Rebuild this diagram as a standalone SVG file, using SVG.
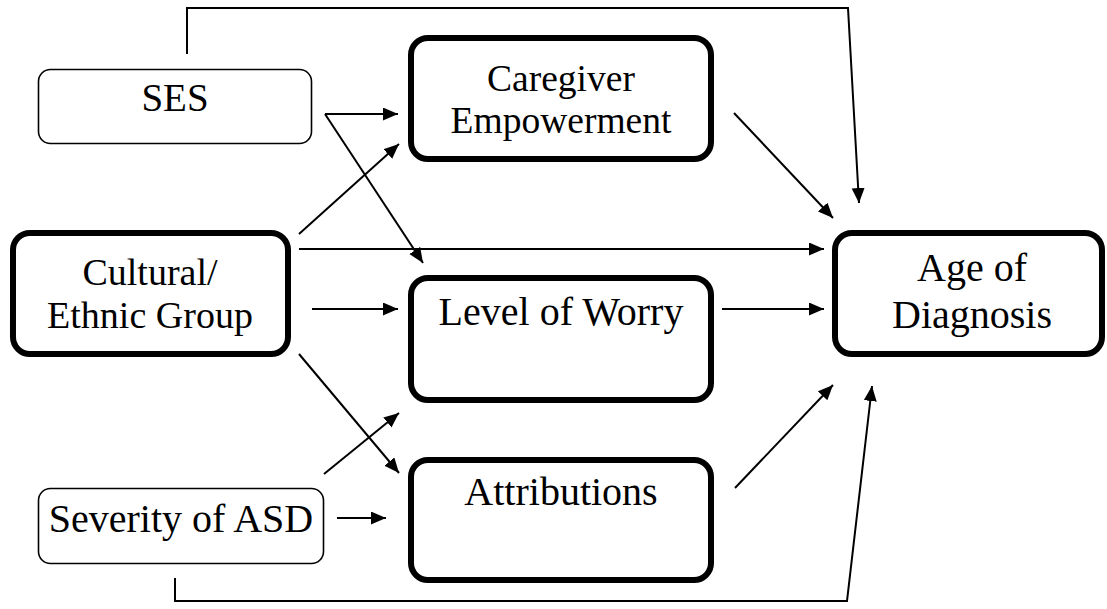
<svg xmlns="http://www.w3.org/2000/svg" width="1107" height="609" viewBox="0 0 1107 609">
<style>
.thick{fill:#fff;stroke:#000;stroke-width:6}
.thin{fill:#fff;stroke:#000;stroke-width:1.6}
text{font-family:'Liberation Serif','Times New Roman',serif;font-size:40px;fill:#000;text-anchor:middle}
.c{fill:none;stroke:#000;stroke-width:2;marker-end:url(#ah)}
</style>
<defs>
<marker id="ah" markerUnits="userSpaceOnUse" markerWidth="16" markerHeight="14" refX="15" refY="6.5" orient="auto">
<path d="M0,0 L15,6.5 L0,13 z" fill="#000"/>
</marker>
</defs>
<rect width="1107" height="609" fill="#fff"/>
<g id="connectors">
<path class="c" d="M325,114 H398"/>
<path class="c" d="M325,114 L423,263"/>
<path class="c" d="M299,234 L399,144"/>
<path class="c" d="M299,249 H824"/>
<path class="c" d="M312,309 H398"/>
<path class="c" d="M299,354 L399,473"/>
<path class="c" d="M324,474 L399,413"/>
<path class="c" d="M337,518 H386"/>
<path class="c" d="M734,113 L833,218"/>
<path class="c" d="M722,309 H824"/>
<path class="c" d="M735,488 L833,385"/>
<path class="c" d="M187,54 V8 H848 L859,203"/>
<path class="c" d="M175,578 V601 H847 L872,386"/>
</g>
<g id="ses">
<rect class="thin" x="38.5" y="69.5" width="273" height="74" rx="12"/>
<text x="175" y="111" style="font-size:39px">SES</text>
</g>
<g id="caregiver">
<rect class="thick" x="411" y="38" width="300" height="121" rx="17"/>
<text x="561" y="91" style="font-size:37.5px">Caregiver</text>
<text x="561" y="133" style="font-size:37.5px">Empowerment</text>
</g>
<g id="cultural">
<rect class="thick" x="13" y="233" width="275" height="121" rx="17"/>
<text x="150" y="285" style="font-size:38px">Cultural/</text>
<text x="150" y="328" style="font-size:38px">Ethnic Group</text>
</g>
<g id="worry">
<rect class="thick" x="411" y="278" width="300" height="122" rx="17"/>
<text x="561" y="325">Level of Worry</text>
</g>
<g id="attributions">
<rect class="thick" x="411" y="460" width="300" height="120" rx="17"/>
<text x="561" y="505">Attributions</text>
</g>
<g id="severity">
<rect class="thin" x="38.5" y="488.5" width="285" height="75" rx="12"/>
<text x="181" y="532">Severity of ASD</text>
</g>
<g id="age">
<rect class="thick" x="835" y="233" width="267" height="121" rx="17"/>
<text x="972" y="281">Age of</text>
<text x="972" y="328">Diagnosis</text>
</g>
</svg>
